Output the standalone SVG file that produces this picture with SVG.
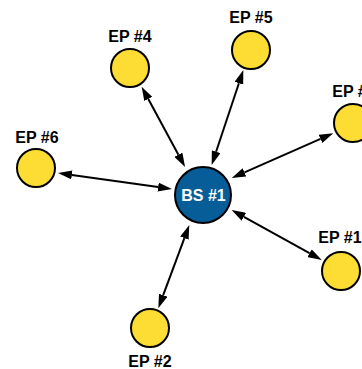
<svg xmlns="http://www.w3.org/2000/svg" width="362" height="369" viewBox="0 0 362 369">
  <style>
    .ep { fill: #FDDC33; stroke: #000; stroke-width: 2; }
    .bs { fill: #075D97; stroke: #000; stroke-width: 2; }
    .lbl { font-family: "Liberation Sans", Arial, sans-serif; font-weight: bold; font-size: 16px; fill: #000; text-anchor: middle; }
    .bslbl { font-family: "Liberation Sans", Arial, sans-serif; font-weight: bold; font-size: 16px; fill: #fff; text-anchor: middle; }
    .link { stroke: #000; stroke-width: 2; fill: none; marker-start: url(#head); marker-end: url(#head); }
  </style>
  <defs>
    <marker id="head" markerUnits="userSpaceOnUse" viewBox="0 -4.5 14 9" refX="0" refY="0" markerWidth="14" markerHeight="9" orient="auto-start-reverse">
      <path d="M0,-4.5 L14,0 L0,4.5 Z" fill="#000"/>
    </marker>
  </defs>

  <!-- two-way links between the base station and each endpoint -->
  <g id="connectors">
    <line class="link" x1="71.9" y1="174.9" x2="158.1" y2="187.1"/>
    <line class="link" x1="148.3" y1="99.0" x2="178.4" y2="154.7"/>
    <line class="link" x1="238.9" y1="83.3" x2="216.1" y2="151.7"/>
    <line class="link" x1="320.5" y1="138.9" x2="244.5" y2="172.4"/>
    <line class="link" x1="243.9" y1="216.8" x2="309.5" y2="253.2"/>
    <line class="link" x1="184.4" y1="238.1" x2="163.2" y2="295.2"/>
  </g>

  <g id="bs1">
    <circle class="bs" cx="203" cy="195" r="28"/>
    <text class="bslbl" x="203.5" y="200.5">BS #1</text>
  </g>

  <g id="ep1">
    <circle class="ep" cx="341" cy="271" r="19"/>
    <text class="lbl" x="340" y="243">EP #1</text>
  </g>
  <g id="ep2">
    <circle class="ep" cx="150" cy="328" r="19"/>
    <text class="lbl" x="150" y="367">EP #2</text>
  </g>
  <g id="ep3">
    <circle class="ep" cx="353" cy="123" r="19"/>
    <text class="lbl" x="354" y="97">EP #3</text>
  </g>
  <g id="ep4">
    <circle class="ep" cx="130" cy="68" r="19"/>
    <text class="lbl" x="130" y="42">EP #4</text>
  </g>
  <g id="ep5">
    <circle class="ep" cx="251" cy="50" r="19"/>
    <text class="lbl" x="251" y="23">EP #5</text>
  </g>
  <g id="ep6">
    <circle class="ep" cx="36" cy="168" r="19"/>
    <text class="lbl" x="37" y="143">EP #6</text>
  </g>
</svg>
